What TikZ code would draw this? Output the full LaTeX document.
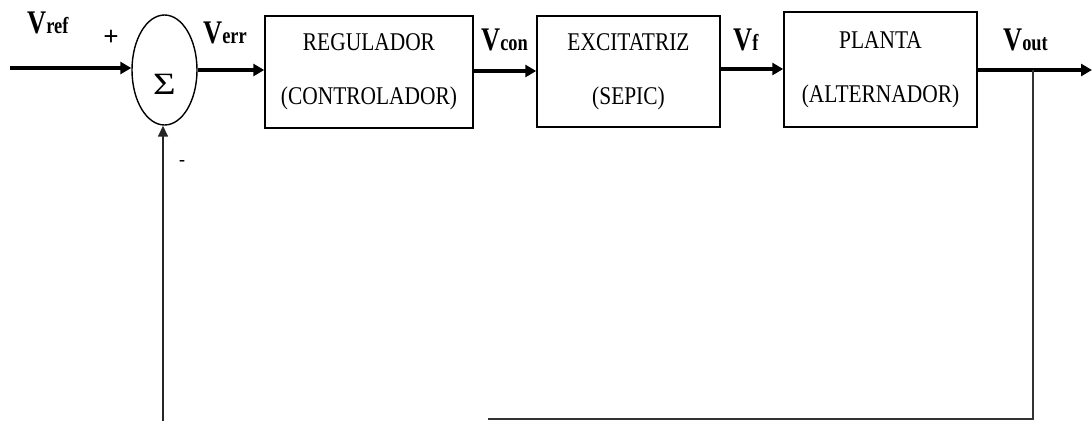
\documentclass[tikz,border=0pt]{standalone}
\usepackage{fontspec}
\setmainfont{Liberation Serif}
\newfontfamily\boxfam[FakeStretch=0.84]{Liberation Serif}
\newfontfamily\lblfam[FakeStretch=0.8]{Liberation Serif Bold}
\usetikzlibrary{shapes.geometric,arrows.meta}
\newcommand{\sig}[2]{{\lblfam\fontsize{33}{33}\selectfont #1}{\lblfam\fontsize{23}{23}\selectfont #2}}
\tikzset{
  blockbox/.style={draw, line width=1.5pt, inner sep=0pt, align=center,
    font=\boxfam\fontsize{25.5}{30}\selectfont},
  sigl/.style={anchor=base west, inner sep=0pt},
  mainarrow/.style={line width=3.2pt, -{Triangle[length=11pt,width=12pt]}},
  fbline/.style={line width=1.5pt, draw=black!80},
  fbarrow/.style={line width=1.5pt, draw=black!85, -{Triangle[length=11pt,width=10pt]}},
}
\begin{document}
\begin{tikzpicture}[x=1pt,y=-1pt]
\useasboundingbox (0,0) rectangle (1092,421);
% summing junction
\node[draw, ellipse, line width=1.4pt, minimum width=65pt, minimum height=110pt, inner sep=0pt]
  (sum) at (164.5,70) {\raisebox{-24pt}[0pt][0pt]{\scalebox{1.25}[1]{\fontsize{31}{31}\selectfont Σ}}};
% blocks
\node[blockbox, minimum width=208pt, minimum height=112pt] (reg) at (369,72)
  {REGULADOR\\[24pt](CONTROLADOR)};
\node[blockbox, minimum width=183pt, minimum height=111pt] (exc) at (628.5,71.5)
  {EXCITATRIZ\\[24pt](SEPIC)};
\node[blockbox, minimum width=193pt, minimum height=115pt] (pla) at (880.5,69.5)
  {PLANTA\\[24pt](ALTERNADOR)};
% coordinates
\coordinate (in) at (10,68);
\coordinate (out) at (1092,70);
\coordinate (br) at (1033,70);
\coordinate (fb1) at (1033,419);
\coordinate (fb2) at (488,419);
\coordinate (fb3) at (163,421);
% connectors
\draw[mainarrow] (in) -- (in -| sum.west);
\draw[mainarrow] (sum.east |- 0,70) -- (reg.west |- 0,70);
\draw[mainarrow] (reg.east |- 0,71) -- (exc.west |- 0,71);
\draw[mainarrow] (exc.east |- 0,69) -- (pla.west |- 0,69);
\draw[mainarrow] (pla.east |- out) -- (out);
\draw[fbline] (br) -- (fb1) -- (fb2);
\draw[fbarrow] (fb3) -- (fb3 |- sum.south);
% labels
\node[sigl] (lref) at (27,33) {\sig{V}{ref}};
\node[sigl] (lerr) at (203,43) {\sig{V}{err}};
\node[sigl] (lcon) at (481,50) {\sig{V}{con}};
\node[sigl] (lf) at (733,50) {\sig{V}{f}};
\node[sigl] (lout) at (1003,50) {\sig{V}{out}};
\node[inner sep=0pt, font=\fontsize{27}{27}\selectfont\bfseries] (plus) at (111,38) {+};
\node[inner sep=0pt, font=\fontsize{18}{18}\selectfont\bfseries] (minus) at (182,163) {-};
\end{tikzpicture}
\end{document}
